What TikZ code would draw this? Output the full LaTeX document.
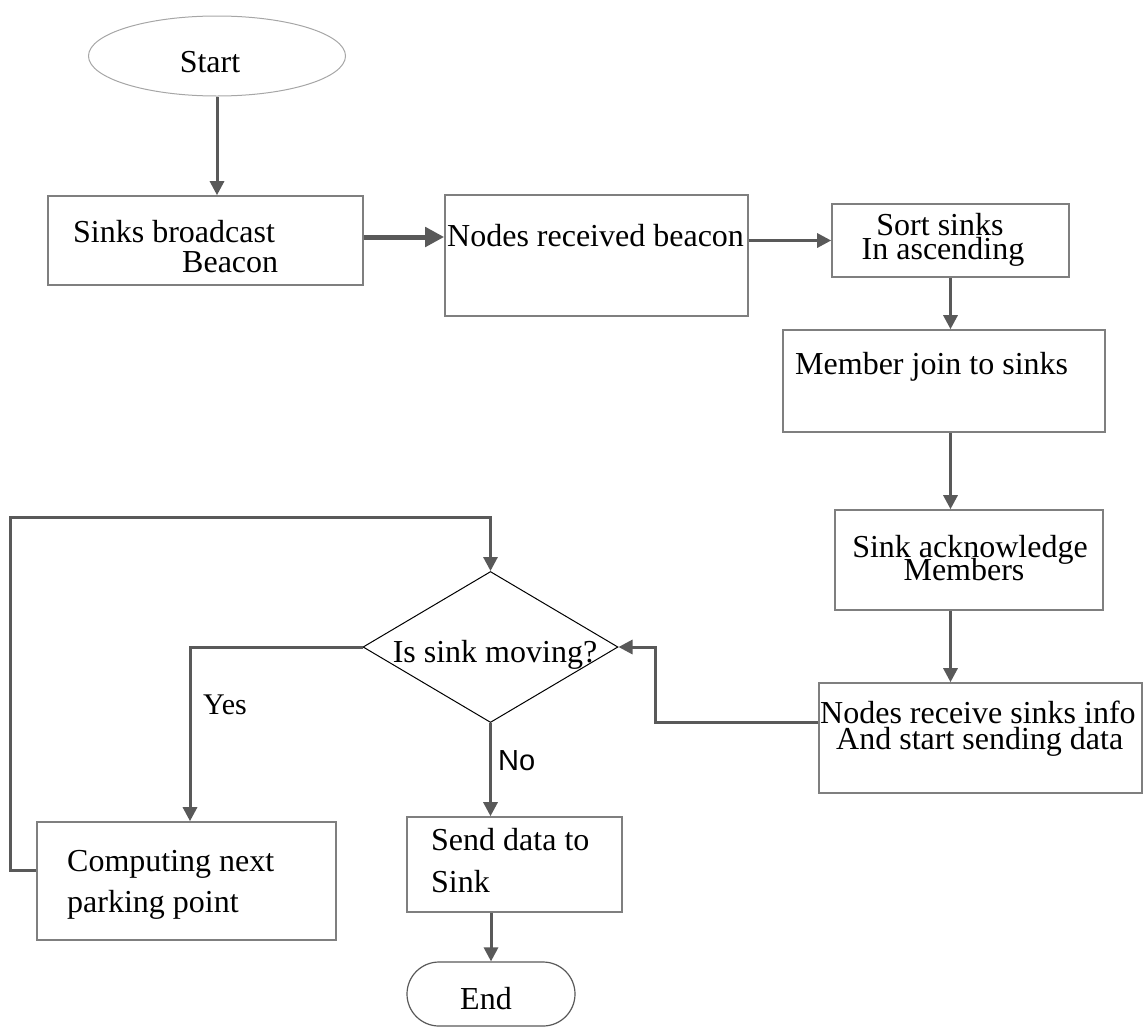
\documentclass[tikz,border=0pt]{standalone}
\usepackage{fontspec}
\setmainfont{Liberation Serif}
\newfontfamily\labelsans{Liberation Sans}
\usetikzlibrary{arrows.meta,shapes.geometric,shapes.misc}
\definecolor{linkgray}{HTML}{595959}
\definecolor{framegray}{HTML}{7F7F7F}
\definecolor{ovalgray}{HTML}{A6A6A6}
\begin{document}
\begin{tikzpicture}[x=1pt,y=-1pt,
  procbox/.style={draw=framegray,line width=1.6pt,rectangle,inner sep=0pt},
  txt/.style={anchor=base west,inner sep=0pt,font=\fontsize{32}{34}\selectfont},
  ctxt/.style={anchor=base,inner sep=0pt,font=\fontsize{32}{34}\selectfont},
  conn/.style={draw=linkgray,line width=3pt,-{Triangle[length=14pt,width=14pt]}},
  thickconn/.style={draw=linkgray,line width=5pt,-{Triangle[length=19pt,width=19pt]}}]
\useasboundingbox (0,0) rectangle (1146,1026);

% start / end terminals
\node[ellipse,draw=ovalgray,line width=1pt,minimum width=257pt,minimum height=80pt,inner sep=0pt] (start) at (217,56) {};
\node[ctxt] (startlbl) at (210,72) {Start};
\node[rounded rectangle,draw=linkgray,line width=1.2pt,minimum width=168pt,minimum height=64pt,inner sep=0pt] (end) at (491,994) {};
\node[ctxt] (endlbl) at (486,1009) {End};

% process boxes
\node[procbox,minimum width=315pt,minimum height=89pt] (b1) at (205.5,240.5) {};
\node[txt] (b1a) at (73,242) {Sinks broadcast};
\node[txt] (b1b) at (182,272) {Beacon};

\node[procbox,minimum width=303pt,minimum height=121pt] (b2) at (596.5,255.5) {};
\node[txt] (b2a) at (447,246) {Nodes received beacon};

\node[procbox,minimum width=237pt,minimum height=73pt] (b3) at (950.5,240.5) {};
\node[ctxt] (b3a) at (940,235) {Sort sinks};
\node[ctxt] (b3b) at (943,259) {In ascending};

\node[procbox,minimum width=322pt,minimum height=102pt] (b4) at (944,381) {};
\node[txt] (b4a) at (795,374) {Member join to sinks};

\node[procbox,minimum width=268pt,minimum height=100pt] (b5) at (969,560) {};
\node[ctxt] (b5a) at (970,557) {Sink acknowledge};
\node[ctxt] (b5b) at (964,580) {Members};

\node[procbox,minimum width=323pt,minimum height=110pt] (b6) at (980.5,738) {};
\node[txt] (b6a) at (820,723) {Nodes receive sinks info};
\node[txt] (b6b) at (836,749) {And start sending data};

\node[procbox,minimum width=299pt,minimum height=118pt] (b7) at (186.5,881) {};
\node[txt] (b7a) at (67,871) {Computing next};
\node[txt] (b7b) at (67,912) {parking point};

\node[procbox,minimum width=215pt,minimum height=95pt] (b8) at (514.5,864.5) {};
\node[txt] (b8a) at (431,850) {Send data to};
\node[txt] (b8b) at (431,892) {Sink};

% decision
\node[diamond,draw=black,line width=1pt,minimum width=255pt,minimum height=151pt,inner sep=0pt] (dia) at (490.5,647) {};
\node[ctxt] (dialbl) at (495,662) {Is sink moving?};

% branch labels
\node[anchor=base west,inner sep=0pt,font=\fontsize{30}{32}\selectfont] (yes) at (203,714) {Yes};
\node[anchor=base west,inner sep=0pt,font=\labelsans\fontsize{29}{32}\selectfont] (no) at (498,770) {No};

% connectors
\draw[conn] (start.south) -- (start.south |- b1.north);
\draw[thickconn] ([yshift=3.5pt]b1.east) -- ([yshift=3.5pt]b1.east -| b2.west);
\draw[conn] (b3.west -| b2.east) -- (b3.west);
\draw[conn] (b3.south) -- (b3.south |- b4.north);
\draw[conn] (b3.south |- b4.south) -- (b3.south |- b5.north);
\draw[conn] (b3.south |- b5.south) -- (b3.south |- b6.north);
\coordinate (bendR) at (655,647);
\draw[conn] ([yshift=16pt]b6.west) -| (bendR) -- (dia.east);
\draw[conn] (dia.west) -| ([xshift=3.5pt]b7.north);
\coordinate (bendL) at (10,517);
\draw[conn] ([yshift=11pt]b7.west) -| (bendL) -| (dia.north);
\draw[conn] (dia.south) -- (dia.south |- b8.north);
\draw[conn] (end.north |- b8.south) -- (end.north);
\end{tikzpicture}
\end{document}
